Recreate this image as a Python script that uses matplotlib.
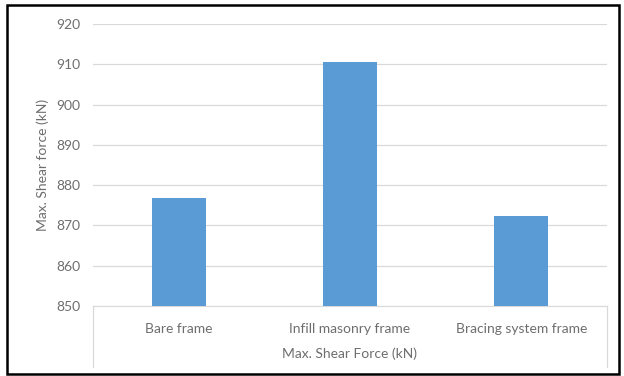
import matplotlib
matplotlib.use("Agg")
import matplotlib.pyplot as plt
from matplotlib.patches import Rectangle

# data
categorias = ["Bare frame", "Infill masonry frame", "Bracing system frame"]
cortante_max = [876.9, 910.6, 872.3]
ticks_y = [850, 860, 870, 880, 890, 900, 910, 920]

W, H = 624, 376
plt.rcParams['font.family'] = ['Lato', 'DejaVu Sans']
fig = plt.figure(figsize=(W / 100, H / 100), dpi=100)
ax = fig.add_axes([93 / W, 1 - 306 / H, 514 / W, 282 / H])

gris_texto = "#6E6E6E"
gris_linea = "#D9D9D9"

x = list(range(len(categorias)))
ax.bar(x, cortante_max, width=0.315, color="#5B9BD5", zorder=3)

ax.set_xlim(-0.5, len(categorias) - 0.5)
ax.set_ylim(850, 920)
ax.set_yticks(ticks_y)
ax.yaxis.grid(True, color=gris_linea, linewidth=0.9, zorder=0)
ax.set_xticks(x)
ax.set_xticklabels(categorias)

for lado in ["top", "right", "left"]:
    ax.spines[lado].set_visible(False)
ax.spines["bottom"].set_color(gris_linea)
ax.tick_params(axis="both", length=0, colors=gris_texto, labelsize=10)
ax.tick_params(axis="x", pad=12)
ax.tick_params(axis="y", pad=9)

ax.set_xlabel("Max. Shear Force (kN)", color=gris_texto, fontsize=10, labelpad=9)
ax.set_ylabel("Max. Shear force (kN)", color=gris_texto, fontsize=10)
ax.yaxis.set_label_coords(-0.086, 0.5)

# lineas verticales del eje de categorias
fondo = -61 / 282
for xa in [0, 1]:
    ax.plot([xa, xa], [0, fondo], transform=ax.transAxes, color=gris_linea,
            linewidth=0.9, clip_on=False)

# marco exterior
fig.add_artist(Rectangle((7 / W, 1 - 374 / H), 612 / W, 369 / H,
                         transform=fig.transFigure, fill=False,
                         edgecolor="black", linewidth=1.8))

fig.savefig("out.png", dpi=100)
